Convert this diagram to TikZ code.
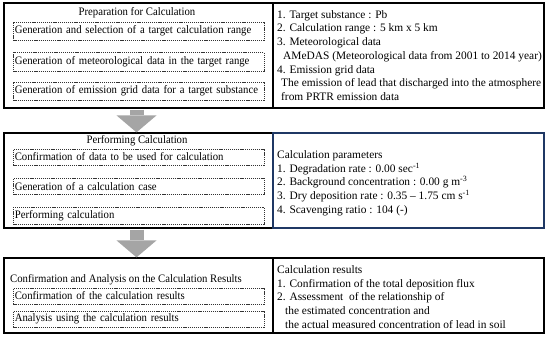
\documentclass[tikz,border=0pt]{standalone}
\usepackage{fontspec}
\setmainfont{Liberation Serif}
\newfontfamily\taskfont{Liberation Serif}[FakeStretch = 0.94]
\usetikzlibrary{arrows.meta}
\definecolor{arrowgray}{RGB}{165,165,165}
\definecolor{navy}{RGB}{31,56,100}
\tikzset{outerbox/.style = {draw, line width = 1.2pt, inner sep = 0pt, minimum width = 269pt}}
\tikzset{infobox/.style = {draw, line width = 1.2pt, inner sep = 0pt, minimum width = 271pt}}
\tikzset{titletext/.style = {inner sep = 0pt, font = \taskfont\fontsize{11.4}{13.7}\selectfont}}
\tikzset{taskbox/.style = {draw = black!80, line width = 0.6pt, dash pattern = on 1.2pt off 0.9pt, anchor = west, inner xsep = 1.5pt, inner ysep = 0pt, text width = 248pt, align = left, font = \taskfont\fontsize{11.4}{13.7}\selectfont}}
\tikzset{infotext/.style = {anchor = west, inner sep = 0pt, align = left}}
\tikzset{blockarrow/.style = {draw = arrowgray, line width = 14pt, shorten <= 1pt, -{Triangle[length = 17pt, width = 40pt, line width = 0pt]}}}

\begin{document}
\begin{tikzpicture}[x = 1pt, y = -1pt, font = \fontsize{11.4}{13.7}\selectfont]
	\useasboundingbox (0, 0) rectangle (550, 337);

	% preparation
	\node[outerbox, minimum height = 105pt] (prep) at (138.5, 55.5) {};
	\node[infobox, minimum height = 105pt] (prepinfo) at (408.5, 55.5) {};
	\node[titletext] (preptitle) at (137, 13) {Preparation for Calculation};
	\node[taskbox, minimum height = 18pt] (range) at (13, 31) {Generation and selection of a target calculation range};
	\node[taskbox, minimum height = 19pt] (meteo) at (13, 62) {Generation of meteorological data in the target range};
	\node[taskbox, minimum height = 18pt] (grid) at (13, 91) {Generation of emission grid data for a target substance};
	\node[infotext] (preptext) at (277, 55.5) {1. Target substance : Pb\\
		2. Calculation range : 5 km x 5 km\\
		3. Meteorological data\\
		\hspace*{6pt}AMeDAS (Meteorological data from 2001 to 2014 year)\\
		4. Emission grid data\\
		\hspace*{4pt}The emission of lead that discharged into the atmosphere\\
		\hspace*{4pt}from PRTR emission data};

	% performing
	\node[outerbox, minimum height = 95pt] (perf) at (138.5, 180.5) {};
	\node[infobox, draw = navy, minimum height = 95pt] (perfinfo) at (408.5, 180.5) {};
	\node[titletext] (perftitle) at (137, 141) {Performing Calculation};
	\node[taskbox, minimum height = 16pt] (confirm) at (13, 157) {Confirmation of data to be used for calculation};
	\node[taskbox, minimum height = 16pt] (case) at (13, 186.5) {Generation of a calculation case};
	\node[taskbox, minimum height = 17pt] (run) at (13, 216) {Performing calculation};
	\node[infotext] (perftext) at (277, 183) {Calculation parameters\\
		1. Degradation rate : 0.00 sec\textsuperscript{-1}\\
		2. Background concentration : 0.00 g m\textsuperscript{-3}\\
		3. Dry deposition rate : 0.35 -- 1.75 cm s\textsuperscript{-1}\\
		4. Scavenging ratio : 104 (-)};

	% results
	\node[outerbox, minimum height = 75pt] (res) at (138.5, 295.5) {};
	\node[infobox, minimum height = 75pt] (resinfo) at (408.5, 295.5) {};
	\node[titletext, anchor = west] (restitle) at (10, 280) {Confirmation and Analysis on the Calculation Results};
	\node[taskbox, minimum height = 16pt] (check) at (13, 296) {Confirmation of the calculation results};
	\node[taskbox, minimum height = 16pt] (analysis) at (13, 319) {Analysis using the calculation results};
	\node[infotext] (restext) at (277, 297) {Calculation results\\
		1. Confirmation of the total deposition flux\\
		2. Assessment~ of the relationship of\\
		\hspace*{8pt}the estimated concentration and\\
		\hspace*{8pt}the actual measured concentration of lead in soil};

	\draw[blockarrow] ([xshift = -2pt]prep.south) -- ([xshift = -2pt]perf.north);
	\draw[blockarrow] ([xshift = -2pt]perf.south) -- ([xshift = -2pt]res.north);
\end{tikzpicture}
\end{document}
